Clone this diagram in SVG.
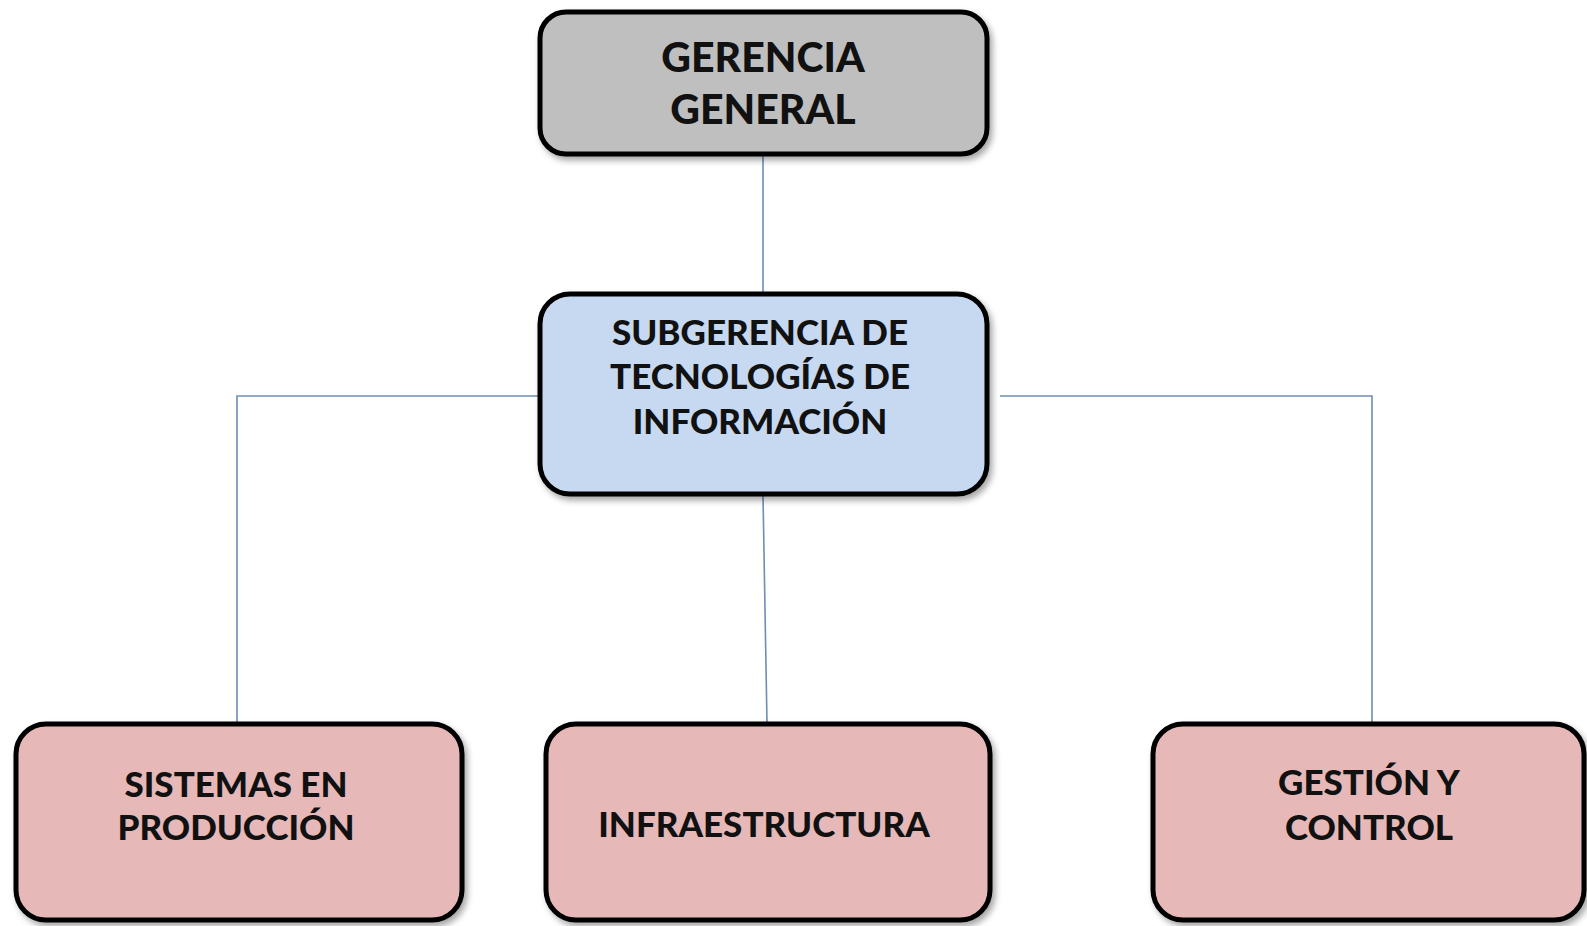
<svg xmlns="http://www.w3.org/2000/svg" width="1587" height="926" viewBox="0 0 1587 926">
<defs>
<filter id="sh" x="-10%" y="-10%" width="125%" height="130%">
<feDropShadow dx="3" dy="4" stdDeviation="3" flood-color="#000" flood-opacity="0.35"/>
</filter>
<style>
.box{stroke:#000;stroke-width:5;filter:url(#sh)}
.gray{fill:#bfbfbf}
.blue{fill:#c6d9f1}
.pink{fill:#e6b9b8}
.t{font-family:Lato,"Open Sans","Liberation Sans",sans-serif;font-weight:900;fill:#111;text-anchor:middle}
.conn{stroke:#6f8db5;stroke-width:1.6;fill:none}
</style>
</defs>
<rect width="1587" height="926" fill="#fff"/>
<g id="connectors">
<line class="conn" x1="763" y1="155" x2="763" y2="293"/>
<polyline class="conn" points="540,396 237,396 237,723"/>
<polyline class="conn" points="1000,396 1372,396 1372,723"/>
<line class="conn" x1="763" y1="495" x2="767" y2="723"/>
</g>
<g id="gerencia-general">
<rect class="box gray" x="540" y="12" width="447" height="142" rx="26"/>
<text class="t" x="763" y="72" font-size="41">GERENCIA</text>
<text class="t" x="763" y="124" font-size="41">GENERAL</text>
</g>
<g id="subgerencia">
<rect class="box blue" x="540" y="294" width="447" height="200" rx="30"/>
<text class="t" x="760" y="345" font-size="35">SUBGERENCIA DE</text>
<text class="t" x="760" y="389" font-size="35">TECNOLOGÍAS DE</text>
<text class="t" x="760" y="434" font-size="35">INFORMACIÓN</text>
</g>
<g id="sistemas">
<rect class="box pink" x="16" y="724" width="446" height="196" rx="30"/>
<text class="t" x="236" y="797" font-size="35">SISTEMAS EN</text>
<text class="t" x="236" y="840" font-size="35">PRODUCCIÓN</text>
</g>
<g id="infraestructura">
<rect class="box pink" x="546" y="724" width="444" height="196" rx="30"/>
<text class="t" x="764" y="837" font-size="35">INFRAESTRUCTURA</text>
</g>
<g id="gestion">
<rect class="box pink" x="1153" y="724" width="431" height="196" rx="30"/>
<text class="t" x="1369" y="795" font-size="35">GESTIÓN Y</text>
<text class="t" x="1369" y="840" font-size="35">CONTROL</text>
</g>
</svg>
